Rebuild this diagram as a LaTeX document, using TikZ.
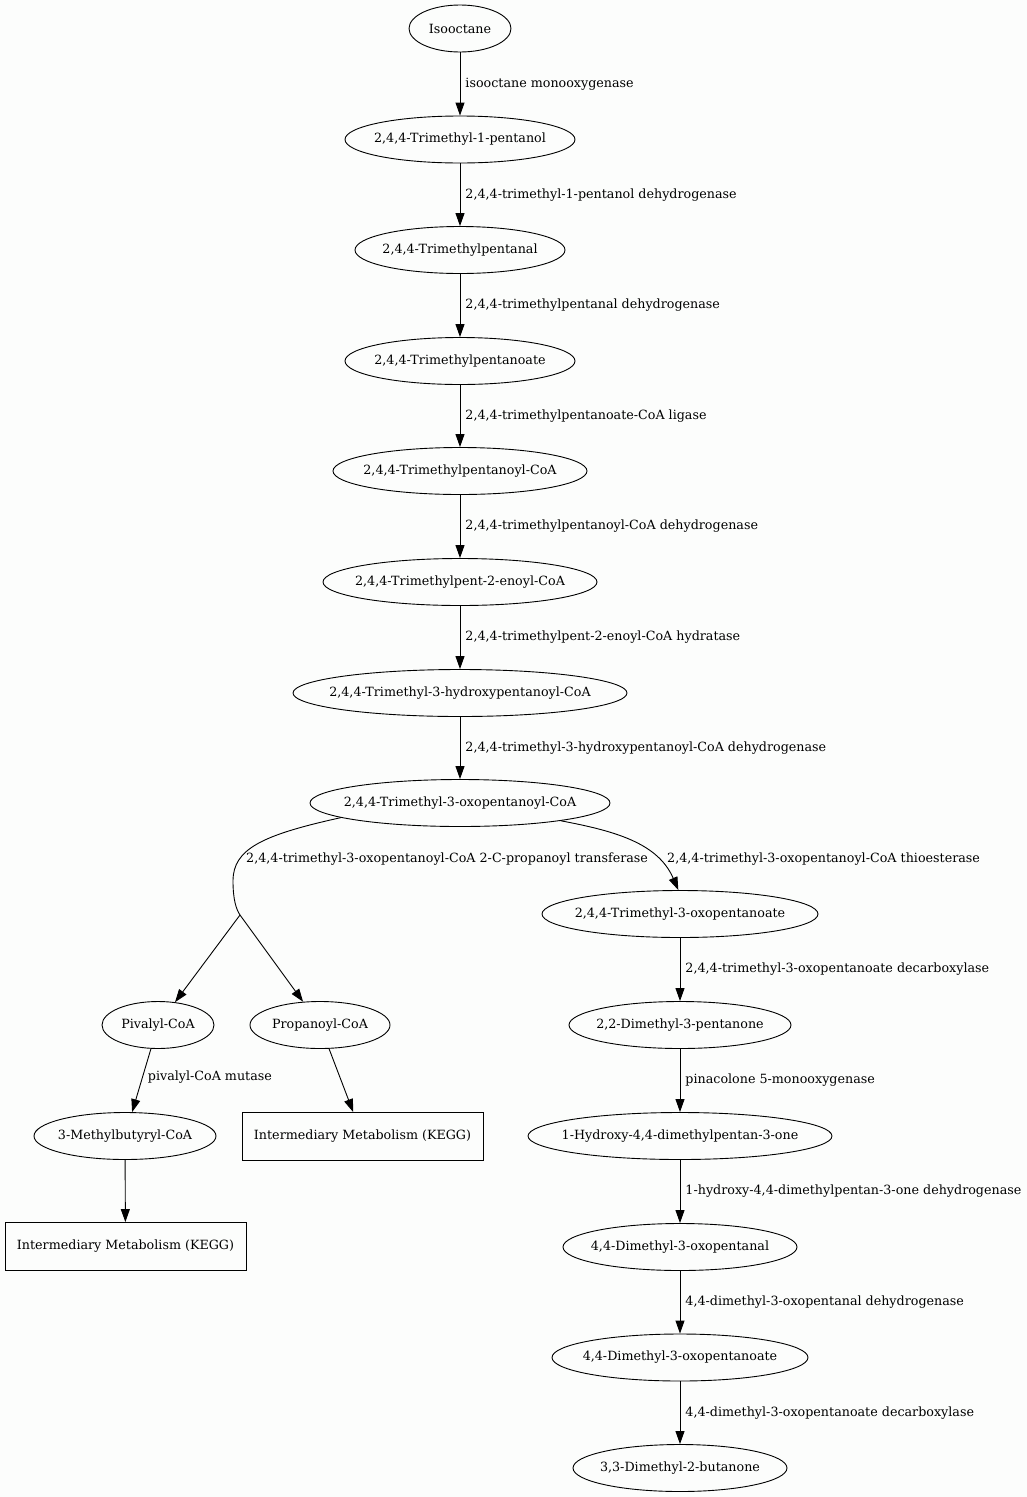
\documentclass[tikz,border=0pt]{standalone}
\usepackage{fontspec}
\setmainfont{DejaVu Serif}
\usetikzlibrary{shapes.geometric,arrows.meta}
\definecolor{bg}{RGB}{252,253,252}
\begin{document}
\begin{tikzpicture}[x=1pt,y=-1pt,
  every node/.style={font=\fontsize{12.7}{15}\selectfont},
  st/.style={ellipse,draw,line width=0.9pt,minimum height=47pt,inner sep=0pt},
  box/.style={rectangle,draw,line width=0.9pt,minimum width=241pt,minimum height=48pt},
  edge/.style={line width=0.9pt,-{Triangle[length=13pt,width=9pt]}},
  elab/.style={anchor=west,inner sep=0pt,xshift=5pt}]
\fill[bg] (0,0) rectangle (1027,1497);
\useasboundingbox (0,0) rectangle (1027,1497);
% main column
\node[st,minimum width=102pt,label={center:Isooctane}] (iso) at (460,28.5) {};
\node[st,minimum width=230pt,label={center:2,4,4-Trimethyl-1-pentanol}] (tmpol) at (460,139.5) {};
\node[st,minimum width=210pt,label={center:2,4,4-Trimethylpentanal}] (tmpal) at (460,250) {};
\node[st,minimum width=230pt,label={center:2,4,4-Trimethylpentanoate}] (tmpoate) at (460,361) {};
\node[st,minimum width=254pt,label={center:2,4,4-Trimethylpentanoyl-CoA}] (tmpcoa) at (460,471) {};
\node[st,minimum width=274pt,label={center:2,4,4-Trimethylpent-2-enoyl-CoA}] (enoyl) at (460,582) {};
\node[st,minimum width=334pt,label={center:2,4,4-Trimethyl-3-hydroxypentanoyl-CoA}] (hydroxy) at (460,693) {};
\node[st,minimum width=300pt,label={center:2,4,4-Trimethyl-3-oxopentanoyl-CoA}] (oxo) at (460,803) {};
% right column
\node[st,minimum width=276pt,label={center:2,4,4-Trimethyl-3-oxopentanoate}] (tmo) at (680,914) {};
\node[st,minimum width=222pt,label={center:2,2-Dimethyl-3-pentanone}] (dmp) at (680,1025) {};
\node[st,minimum width=304pt,label={center:1-Hydroxy-4,4-dimethylpentan-3-one}] (hyd) at (680,1136) {};
\node[st,minimum width=234pt,label={center:4,4-Dimethyl-3-oxopentanal}] (dmoal) at (680,1247) {};
\node[st,minimum width=256pt,label={center:4,4-Dimethyl-3-oxopentanoate}] (dmoate) at (680,1357.5) {};
\node[st,minimum width=214pt,label={center:3,3-Dimethyl-2-butanone}] (dmb) at (680,1468) {};
% left branch
\node[st,minimum width=112pt,label={center:Pivalyl-CoA}] (piv) at (158,1025) {};
\node[st,minimum width=140pt,label={center:Propanoyl-CoA}] (prop) at (320,1025) {};
\node[st,minimum width=182pt,label={center:3-Methylbutyryl-CoA}] (mb) at (125,1136) {};
\node[box] (kegg1) at (362.5,1136.5) {Intermediary Metabolism (KEGG)};
\node[box] (kegg2) at (125.5,1246.5) {Intermediary Metabolism (KEGG)};
\coordinate (j) at (240,915);
% main edges
\draw[edge] (iso) -- node[elab] (l1) {isooctane monooxygenase} (tmpol);
\draw[edge] (tmpol) -- node[elab] (l2) {2,4,4-trimethyl-1-pentanol dehydrogenase} (tmpal);
\draw[edge] (tmpal) -- node[elab] (l3) {2,4,4-trimethylpentanal dehydrogenase} (tmpoate);
\draw[edge] (tmpoate) -- node[elab] (l4) {2,4,4-trimethylpentanoate-CoA ligase} (tmpcoa);
\draw[edge] (tmpcoa) -- node[elab] (l5) {2,4,4-trimethylpentanoyl-CoA dehydrogenase} (enoyl);
\draw[edge] (enoyl) -- node[elab] (l6) {2,4,4-trimethylpent-2-enoyl-CoA hydratase} (hydroxy);
\draw[edge] (hydroxy) -- node[elab] (l7) {2,4,4-trimethyl-3-hydroxypentanoyl-CoA dehydrogenase} (oxo);
% branches
\draw[line width=0.9pt] (oxo.187) .. controls (262,835) and (233,849) .. (233,881) .. controls (233,899) and (236,909) .. (j);
\node[anchor=west,inner sep=0pt] (ltr) at (246,859) {2,4,4-trimethyl-3-oxopentanoyl-CoA 2-C-propanoyl transferase};
\draw[edge] (oxo.350) .. controls (615,831) and (658,843) .. (tmo.94);
\node[anchor=west,inner sep=0pt] (lth) at (667,859) {2,4,4-trimethyl-3-oxopentanoyl-CoA thioesterase};
\draw[edge] (j) -- (piv);
\draw[edge] (j) -- (prop);
\draw[edge] (piv) -- node[elab,pos=0.45] (lpm) {pivalyl-CoA mutase} (mb);
\draw[edge] (prop) -- (kegg1);
\draw[edge] (mb) -- (kegg2);
% right edges
\draw[edge] (tmo) -- node[elab] (r1) {2,4,4-trimethyl-3-oxopentanoate decarboxylase} (dmp);
\draw[edge] (dmp) -- node[elab] (r2) {pinacolone 5-monooxygenase} (hyd);
\draw[edge] (hyd) -- node[elab] (r3) {1-hydroxy-4,4-dimethylpentan-3-one dehydrogenase} (dmoal);
\draw[edge] (dmoal) -- node[elab] (r4) {4,4-dimethyl-3-oxopentanal dehydrogenase} (dmoate);
\draw[edge] (dmoate) -- node[elab] (r5) {4,4-dimethyl-3-oxopentanoate decarboxylase} (dmb);
\end{tikzpicture}
\end{document}
